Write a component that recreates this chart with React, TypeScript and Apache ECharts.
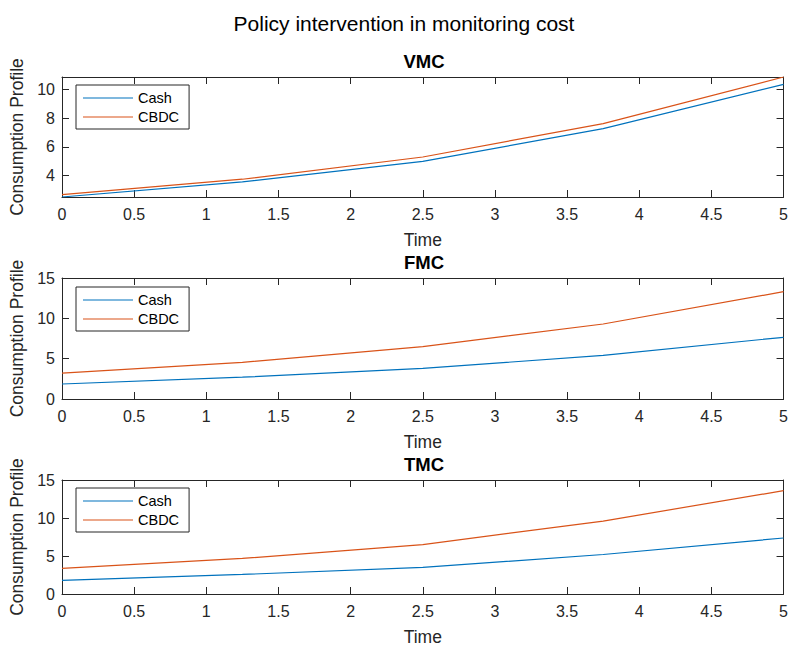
import React, { useEffect, useRef } from "react";
import * as echarts from "echarts";

// Time grid shared by every panel
const time = [0, 1.25, 2.5, 3.75, 5];

// Consumption profiles per monitoring-cost intervention
const vmcCash = [2.5, 3.55, 4.98, 7.27, 10.35];
const vmcCbdc = [2.66, 3.74, 5.29, 7.62, 10.87];
const fmcCash = [1.86, 2.7, 3.8, 5.4, 7.65];
const fmcCbdc = [3.2, 4.55, 6.5, 9.3, 13.3];
const tmcCash = [1.79, 2.57, 3.5, 5.2, 7.37];
const tmcCbdc = [3.37, 4.68, 6.5, 9.6, 13.6];

const panelTitles = ["VMC", "FMC", "TMC"];
const seriesNames = ["Cash", "CBDC"];
const vmcTicks = [4, 6, 8, 10];
const levelTicks = [0, 5, 10, 15];

const FONT = "'Liberation Sans', Arial, Helvetica, sans-serif";
const AX = "#262626";
const COLORS = ["#0072BD", "#D95319"];

const panelData = [
  { cash: vmcCash, cbdc: vmcCbdc, yMin: Math.min(...vmcCash), yMax: Math.max(...vmcCbdc), ticks: vmcTicks },
  { cash: fmcCash, cbdc: fmcCbdc, yMin: 0, yMax: 15, ticks: levelTicks },
  { cash: tmcCash, cbdc: tmcCbdc, yMin: 0, yMax: 15, ticks: levelTicks },
];

// Layout of the three stacked axes
const layout = [
  { top: 77, height: 120, titleTop: 52, legendTop: 85 },
  { top: 278, height: 121, titleTop: 253, legendTop: 287 },
  { top: 480, height: 119, titleTop: 455, legendTop: 488 },
];

const GRID_LEFT = 62;
const GRID_WIDTH = 724;

function buildOption() {
  const grid: any[] = [];
  const xAxis: any[] = [];
  const yAxis: any[] = [];
  const series: any[] = [];
  const legend: any[] = [];
  const title: any[] = [
    {
      text: "Policy intervention in monitoring cost",
      left: 404,
      top: 13,
      textAlign: "center",
      padding: 0,
      textStyle: { fontFamily: FONT, fontSize: 21, fontWeight: "normal", color: "#000" },
    },
  ];

  const axisLine = { show: true, onZero: false, lineStyle: { color: AX, width: 1 } };
  const tick = { show: true, inside: true, length: 7, lineStyle: { color: AX, width: 1 } };

  panelData.forEach((p, i) => {
    const L = layout[i];
    grid.push({ left: GRID_LEFT, width: GRID_WIDTH, top: L.top, height: L.height });

    title.push({
      text: panelTitles[i],
      left: GRID_LEFT + GRID_WIDTH / 2,
      top: L.titleTop,
      textAlign: "center",
      padding: 0,
      textStyle: { fontFamily: FONT, fontSize: 18.5, fontWeight: "bold", color: "#000" },
    });

    // bottom x axis (labelled)
    xAxis.push({
      type: "value",
      gridIndex: i,
      position: "bottom",
      min: 0,
      max: 5,
      interval: 0.5,
      axisLine,
      axisTick: tick,
      splitLine: { show: false },
      axisLabel: { color: AX, fontFamily: FONT, fontSize: 16, margin: 9 },
      name: "Time",
      nameLocation: "middle",
      nameGap: 34,
      nameTextStyle: { color: AX, fontFamily: FONT, fontSize: 17.5 },
    });
    // top x axis (box edge with ticks)
    xAxis.push({
      type: "value",
      gridIndex: i,
      position: "top",
      min: 0,
      max: 5,
      interval: 0.5,
      axisLine,
      axisTick: tick,
      splitLine: { show: false },
      axisLabel: { show: false },
    });

    // left y axis (labelled)
    yAxis.push({
      type: "value",
      gridIndex: i,
      position: "left",
      min: p.yMin,
      max: p.yMax,
      axisLine,
      axisTick: { ...tick, customValues: p.ticks },
      splitLine: { show: false },
      axisLabel: { color: AX, fontFamily: FONT, fontSize: 16, margin: 7, customValues: p.ticks },
      name: "Consumption Profile",
      nameLocation: "middle",
      nameGap: 30,
      nameTextStyle: { color: AX, fontFamily: FONT, fontSize: 17.5 },
    });
    // right y axis (box edge with ticks)
    yAxis.push({
      type: "value",
      gridIndex: i,
      position: "right",
      min: p.yMin,
      max: p.yMax,
      axisLine,
      axisTick: { ...tick, customValues: p.ticks },
      splitLine: { show: false },
      axisLabel: { show: false },
    });

    [p.cash, p.cbdc].forEach((vals, k) => {
      series.push({
        type: "line",
        name: seriesNames[k],
        xAxisIndex: 2 * i,
        yAxisIndex: 2 * i,
        data: time.map((t, j) => [t, vals[j]]),
        symbol: "none",
        lineStyle: { color: COLORS[k], width: 1.2 },
        itemStyle: { color: COLORS[k] },
      });
    });

    legend.push({
      left: 76,
      top: L.legendTop,
      orient: "vertical",
      data: seriesNames,
      icon: "rect",
      itemWidth: 50,
      itemHeight: 1.2,
      itemGap: 3,
      itemTextGap: 4,
      padding: [5, 10, 4, 7],
      borderColor: AX,
      borderWidth: 1,
      backgroundColor: "#fff",
      borderRadius: 0,
      selectedMode: false,
      textStyle: { color: "#000", fontFamily: FONT, fontSize: 14.5, lineHeight: 16 },
    });
  });

  return {
    animation: false,
    backgroundColor: "#fff",
    color: COLORS,
    title,
    grid,
    xAxis,
    yAxis,
    series,
    legend,
  };
}

export default function App() {
  const ref = useRef<HTMLDivElement>(null);

  useEffect(() => {
    if (!ref.current) return;
    const chart = echarts.init(ref.current, undefined, { renderer: "svg" });
    chart.setOption(buildOption() as any);
    return () => chart.dispose();
  }, []);

  return (
    <div
      ref={ref}
      style={{ position: "fixed", left: 0, top: 0, width: 791, height: 647, background: "#fff" }}
    />
  );
}
